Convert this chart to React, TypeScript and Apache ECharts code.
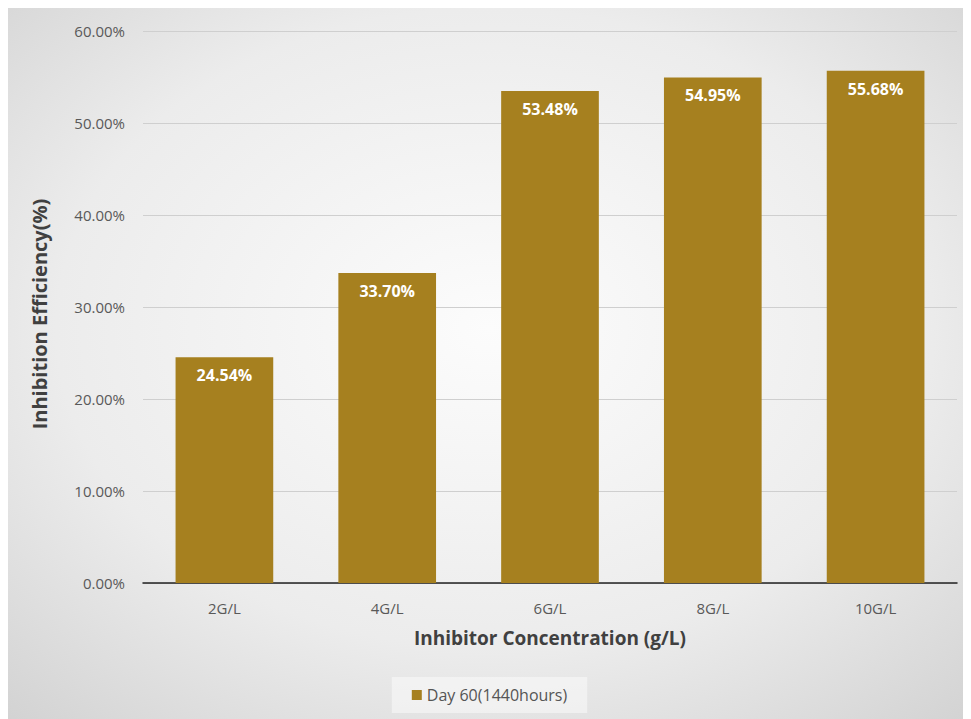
import React, { useEffect, useRef } from "react";
import * as echarts from "echarts";

const categories = ["2G/L", "4G/L", "6G/L", "8G/L", "10G/L"];
const values = [24.54, 33.7, 53.48, 54.95, 55.68];
const seriesName = "Day 60(1440hours)";
const xTitle = "Inhibitor Concentration (g/L)";
const yTitle = "Inhibition Efficiency(%)";

export default function App() {
  const ref = useRef<HTMLDivElement>(null);
  useEffect(() => {
    document.body.style.overflow = "hidden";
    const chart = echarts.init(ref.current!, null, { renderer: "svg" });
    const font = "'Open Sans', Lato, sans-serif";
    chart.setOption({
      animation: false,
      backgroundColor: {
        type: "radial",
        x: 0.5,
        y: 0.45,
        r: 0.75,
        colorStops: [
          { offset: 0, color: "#fcfcfc" },
          { offset: 0.6, color: "#ececec" },
          { offset: 1, color: "#d2d2d2" },
        ],
      },
      textStyle: { fontFamily: font },
      grid: { left: 135, right: 14, top: 23, bottom: 136 },
      legend: {
        bottom: 6,
        left: "center",
        data: [seriesName],
        icon: "rect",
        itemWidth: 10,
        itemHeight: 10,
        itemGap: 6,
        backgroundColor: "rgba(255,255,255,0.45)",
        padding: [10, 20],
        textStyle: { color: "#555", fontSize: 16, fontFamily: font },
      },
      xAxis: {
        type: "category",
        data: categories,
        name: xTitle,
        nameLocation: "middle",
        nameGap: 45,
        nameTextStyle: { color: "#404040", fontSize: 19, fontWeight: "bold", fontFamily: font },
        axisLine: { lineStyle: { color: "#222", width: 1.5 } },
        axisTick: { show: false },
        axisLabel: { color: "#595959", fontSize: 15, margin: 17, fontFamily: font },
      },
      yAxis: {
        type: "value",
        min: 0,
        max: 60,
        interval: 10,
        name: yTitle,
        nameLocation: "middle",
        nameGap: 94,
        nameTextStyle: {
          color: "#404040",
          fontSize: 20,
          fontWeight: "bold",
          fontFamily: font,
          padding: [0, 14, 0, 0],
        },
        axisLine: { show: false },
        axisTick: { show: false },
        axisLabel: {
          color: "#595959",
          fontSize: 15,
          margin: 18,
          fontFamily: font,
          formatter: (v: number) => v.toFixed(2) + "%",
        },
        splitLine: { lineStyle: { color: "#cfcfcf", width: 1 } },
      },
      series: [
        {
          name: seriesName,
          type: "bar",
          data: values,
          barCategoryGap: "40%",
          itemStyle: { color: "#a6801f" },
          label: {
            show: true,
            position: "insideTop",
            distance: 10,
            color: "#ffffff",
            fontWeight: "bold",
            fontSize: 16,
            fontFamily: font,
            formatter: (p: any) => p.value.toFixed(2) + "%",
          },
        },
      ],
    });
    return () => chart.dispose();
  }, []);
  return <div ref={ref} style={{ width: 963, height: 711 }} />;
}
